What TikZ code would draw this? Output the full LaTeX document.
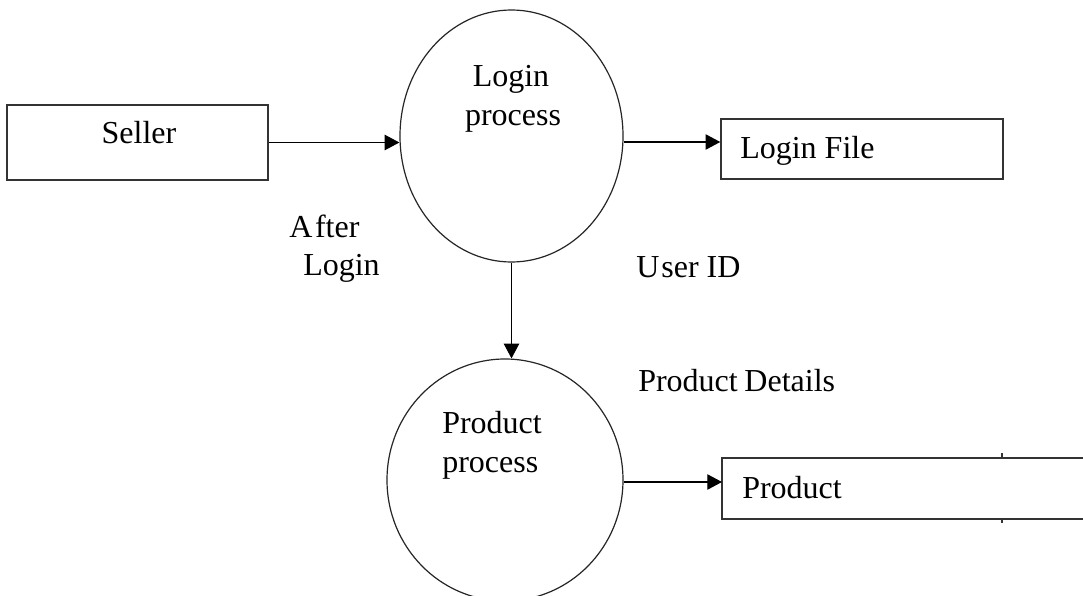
\documentclass[tikz,border=0pt]{standalone}
\usepackage{fontspec}
\setmainfont{Liberation Serif}
\usetikzlibrary{arrows.meta,shapes.geometric}
\begin{document}
\begin{tikzpicture}[x=0.75pt,y=-0.75pt,
  lbl/.style={font=\fontsize{24}{28}\selectfont, inner sep=0pt},
  boxline/.style={draw=black!80, line width=1.1pt},
  procline/.style={draw=black!85, line width=0.9pt},
  flow/.style={draw=black, line width=0.9pt, -{Triangle[length=11pt,width=11.5pt]}}]
\clip (0,0) rectangle (1083,596);
\fill[white] (0,0) rectangle (1083,596);
% Seller
\node[boxline, rectangle, minimum width=261*0.75pt, minimum height=75*0.75pt, inner sep=0pt] (seller) at (137.5,142.5) {};
\node[lbl, anchor=base] (sellertxt) at (139,143) {Seller};
% Login process
\node[procline, ellipse, minimum width=223*0.75pt, minimum height=252*0.75pt, inner sep=0pt] (login) at (511.5,136) {};
\node[lbl, anchor=base] (logintxt1) at (511,86) {Login};
\node[lbl, anchor=base] (logintxt2) at (513,125) {process};
% Login File
\node[boxline, rectangle, minimum width=282*0.75pt, minimum height=60*0.75pt, inner sep=0pt] (lfile) at (862,149) {};
\node[lbl, anchor=base west] (lfiletxt) at (740,158) {Login File};
% Product process
\node[procline, ellipse, minimum width=236*0.75pt, minimum height=242*0.75pt, inner sep=0pt] (prod) at (505,480) {};
\node[lbl, anchor=base west] (prodtxt1) at (442,433) {Product};
\node[lbl, anchor=base west] (prodtxt2) at (442,472) {process};
% Product store (open right side)
\coordinate (pboxnw) at (722,458);
\coordinate (pboxsw) at (722,519);
\coordinate (pboxw) at (722,482);
\draw[boxline] (1090,458) -- (pboxnw) -- (pboxsw) -- (1090,519);
\draw[draw=black!80, line width=0.8pt] (1002,453) -- (1002,458) (1002,519) -- (1002,523);
\node[lbl, anchor=base west] (pboxtxt) at (742,498) {Product};
% Labels
\node[lbl, anchor=base west] (after1) at (289,237) {A\kern2pt fter};
\node[lbl, anchor=base west] (after2) at (303,275) {Login};
\node[lbl, anchor=base west] (userid) at (636,277) {U\kern1.5pt ser ID};
\node[lbl, anchor=base west] (pdetails) at (638,391) {Product\kern-1pt\ Details};
% Connectors
\draw[flow] (seller.east) -- (login.west |- seller.east);
\draw[flow] (login.east |- 0,142) -- (lfile.west |- 0,142);
\draw[flow] (login.south) -- (login.south |- prod.north);
\draw[flow] (prod.east |- pboxw) -- (pboxw);
\end{tikzpicture}
\end{document}
